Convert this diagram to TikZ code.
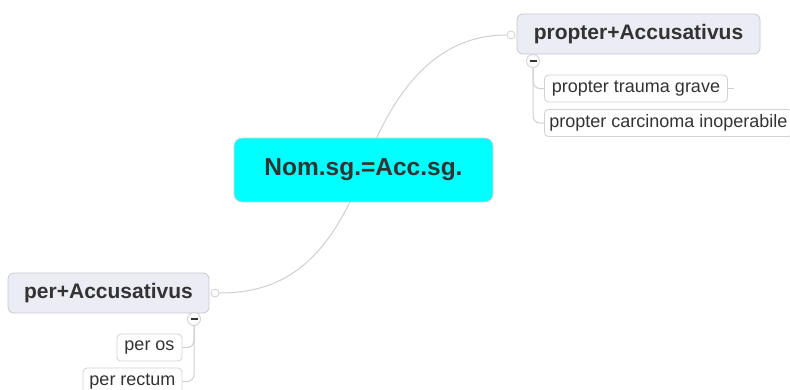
\documentclass[tikz,border=0pt]{standalone}
\usepackage{fontspec}
\setmainfont{Liberation Sans}
\usetikzlibrary{backgrounds}
\definecolor{txt}{HTML}{333333}
\definecolor{lin}{HTML}{CFCFCF}
\definecolor{ctrfill}{HTML}{00FFFF}
\definecolor{topicfill}{HTML}{ECECF4}
\definecolor{topicdraw}{HTML}{C9C9D2}
\definecolor{leafdraw}{HTML}{D2D2D2}
\tikzset{
  centralbox/.style={draw=leafdraw, fill=ctrfill, rounded corners=8pt, line width=0.8pt,
    minimum width=259pt, minimum height=64pt, text=txt, font=\fontsize{24.5}{29}\selectfont\bfseries},
  topicbox/.style={draw=topicdraw, fill=topicfill, rounded corners=6pt, line width=0.8pt,
    minimum height=40pt, text=txt, font=\fontsize{21}{25}\selectfont\bfseries},
  leafbox/.style={draw=leafdraw, fill=white, rounded corners=4pt, line width=0.8pt,
    minimum height=27pt, inner xsep=5pt, text=txt, font=\fontsize{18}{21}\selectfont},
  link/.style={draw=lin, line width=1pt},
  knob/.style={circle, draw=lin, fill=white, line width=0.8pt, inner sep=0pt, minimum size=8pt},
  fold/.style={circle, draw=leafdraw, fill=white, line width=0.9pt, inner sep=0pt, minimum size=13pt,
    path picture={\draw[txt, line width=1.5pt] ([xshift=-3.5pt]path picture bounding box.center) -- ([xshift=3.5pt]path picture bounding box.center);}},
}
\begin{document}
\begin{tikzpicture}[x=1pt,y=-1pt]
\useasboundingbox (0,0) rectangle (790,389);

\node[centralbox] (ctr) at (363.5,170) {Nom.sg.=Acc.sg.};
\node[topicbox, minimum width=243pt] (pa) at (638.5,34) {propter+Accusativus};
\node[topicbox, minimum width=201pt] (pe) at (108.5,293) {per+Accusativus};

\node[leafbox, minimum width=183pt] (pa1) at (636,88.5) {propter trauma grave};
\node[leafbox, anchor=west] (pa2) at (544,123) {propter carcinoma inoperabile};
\node[leafbox, minimum width=65pt] (pe1) at (149.5,347.5) {per os};
\node[leafbox, minimum width=99pt] (pe2) at (132.5,381.5) {per rectum};

\node[knob] (kpa) at (511,35) {};
\node[knob] (kpe) at (215,293) {};
\node[fold] (fpa) at (533,61) {};
\node[fold] (fpe) at (194,319) {};
\coordinate (stub) at (734,88.5);

\begin{scope}[on background layer]
  \draw[link] (ctr.center) .. controls (400,70) and (450,35) .. (kpa.west);
  \draw[link] (ctr.center) .. controls (326,270) and (276,293) .. (kpe.east);
  \draw[link, rounded corners=7pt] (fpa.south) |- (pa1.west);
  \draw[link, rounded corners=7pt] (fpa.south) |- (pa2.west);
  \draw[link, rounded corners=7pt] (fpe.south) |- (pe1.east);
  \draw[link, rounded corners=7pt] (fpe.south) |- (pe2.east);
  \draw[link] (pa1.east) -- (stub);
\end{scope}
\end{tikzpicture}
\end{document}
